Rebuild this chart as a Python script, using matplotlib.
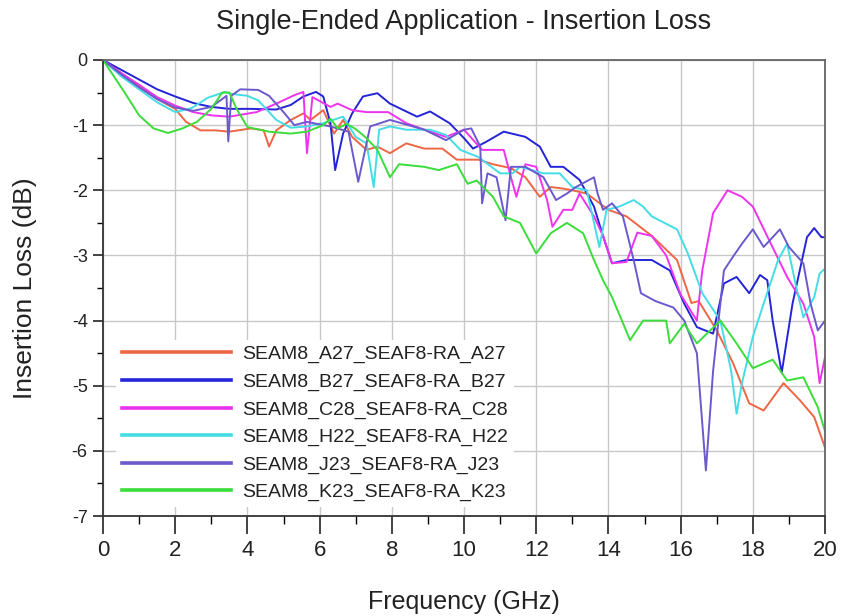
import matplotlib.pyplot as plt
from matplotlib.ticker import MultipleLocator

plt.rcParams['axes.unicode_minus'] = False
plt.rcParams['font.family'] = ['Liberation Sans', 'DejaVu Sans']

# frequency (GHz) / insertion loss (dB)
f_a27 = [0, 0.5, 1, 1.5, 2, 2.3, 2.7, 3.1, 3.5, 4.1, 4.45, 4.6, 4.8, 5.2, 5.55, 5.75, 6.1, 6.4, 6.65,
         6.9, 7.3, 7.6, 7.95, 8.4, 8.9, 9.4, 9.8, 10.4, 10.8, 11.3, 11.7, 12.1, 12.4, 12.7, 13.0, 13.4,
         14.0, 14.5, 15.2, 15.9, 16.3, 16.5, 17.0, 17.45, 17.9, 18.3, 18.85, 19.3, 19.7, 20]
a27 = [0, -0.2, -0.4, -0.6, -0.75, -0.95, -1.08, -1.08, -1.1, -1.05, -1.08, -1.33, -1.08, -0.92, -0.82,
       -0.92, -0.77, -1.13, -0.92, -1.18, -1.38, -1.33, -1.43, -1.28, -1.36, -1.36, -1.53, -1.53, -1.6,
       -1.66, -1.8, -2.1, -1.95, -1.97, -2.0, -2.05, -2.3, -2.4, -2.7, -3.07, -3.73, -3.7, -4.15, -4.65,
       -5.27, -5.38, -4.96, -5.22, -5.48, -5.95]

f_b27 = [0, 0.5, 1, 1.5, 2, 2.5, 3, 3.5, 4.1, 4.8, 5.2, 5.55, 5.9, 6.1, 6.3, 6.43, 6.65, 6.9, 7.2, 7.6,
         7.95, 8.7, 9.06, 9.6, 10.0, 10.25, 10.6, 11.1, 11.7, 12.1, 12.4, 12.75, 13.2, 13.6, 13.85, 14.1,
         14.5, 15.2, 15.7, 16.1, 16.45, 16.9, 17.2, 17.55, 17.9, 18.2, 18.4, 18.55, 18.8, 19.1, 19.5,
         19.7, 19.9, 20]
b27 = [0, -0.15, -0.3, -0.45, -0.56, -0.66, -0.72, -0.75, -0.75, -0.76, -0.69, -0.56, -0.49, -0.56,
       -0.97, -1.69, -1.13, -0.82, -0.56, -0.51, -0.67, -0.87, -0.79, -0.97, -1.2, -1.36, -1.26, -1.1,
       -1.18, -1.33, -1.64, -1.64, -1.84, -2.25, -2.7, -3.12, -3.07, -3.07, -3.23, -3.74, -4.1, -4.2,
       -3.43, -3.33, -3.58, -3.3, -3.38, -4.0, -4.8, -3.74, -2.72, -2.58, -2.72, -2.72]

f_c28 = [0, 0.5, 1, 1.5, 2, 2.5, 3, 3.5, 4.25, 4.8, 5.3, 5.55, 5.65, 5.8, 6.3, 6.5, 6.9, 7.3, 7.9, 8.4,
         8.9, 9.5, 10.0, 10.5, 11.1, 11.3, 11.45, 11.7, 12.0, 12.3, 12.45, 12.75, 13.0, 13.2, 13.6,
         13.85, 14.1, 14.5, 14.8, 15.2, 15.6, 16.0, 16.45, 16.6, 16.9, 17.3, 17.7, 18.0, 18.5, 18.95,
         19.4, 19.7, 19.85, 20]
c28 = [0, -0.2, -0.38, -0.57, -0.7, -0.8, -0.85, -0.87, -0.8, -0.67, -0.54, -0.49, -1.43, -0.57, -0.72,
       -0.67, -0.77, -0.8, -0.8, -0.97, -1.07, -1.18, -1.07, -1.38, -1.38, -1.8, -2.1, -1.6, -1.64,
       -2.15, -2.56, -2.3, -2.3, -2.05, -2.4, -2.7, -3.12, -3.1, -2.65, -2.7, -3.0, -3.6, -4.0, -3.23,
       -2.35, -2.0, -2.1, -2.25, -2.82, -3.33, -3.74, -4.25, -4.96, -4.56]

f_h22 = [0, 0.5, 1, 1.5, 2, 2.45, 2.9, 3.38, 3.55, 4.0, 4.3, 4.8, 5.2, 5.65, 6.1, 6.65, 7.0, 7.3, 7.5,
         7.65, 7.95, 8.4, 9.06, 9.5, 9.9, 10.4, 11.0, 11.35, 11.55, 12.2, 12.65, 13.0, 13.4, 13.75,
         13.95, 14.3, 14.7, 14.96, 15.2, 15.9, 16.2, 16.6, 17.1, 17.4, 17.55, 17.7, 18.0, 18.3, 18.7,
         18.95, 19.2, 19.4, 19.7, 19.85, 20]
h22 = [0, -0.25, -0.45, -0.65, -0.8, -0.74, -0.58, -0.49, -0.52, -0.55, -0.62, -0.92, -1.04, -1.02,
       -0.97, -0.87, -1.18, -1.28, -1.95, -1.07, -1.02, -1.07, -1.07, -1.15, -1.38, -1.49, -1.74, -1.74,
       -1.64, -1.74, -1.74, -1.95, -2.0, -2.87, -2.3, -2.25, -2.15, -2.25, -2.4, -2.6, -2.97, -3.58,
       -4.0, -4.77, -5.43, -4.96, -4.25, -3.74, -3.07, -2.82, -3.48, -3.95, -3.64, -3.28, -3.2]

f_j23 = [0, 0.5, 1, 1.5, 2, 2.5, 3, 3.3, 3.42, 3.47, 3.55, 3.8, 4.3, 4.6, 5.0, 5.3, 5.65, 6.3, 6.8,
         7.07, 7.4, 7.95, 8.9, 9.5, 10.0, 10.2, 10.45, 10.5, 10.65, 10.9, 11.15, 11.3, 11.7, 12.2,
         12.55, 12.85, 13.1, 13.6, 13.7, 13.85, 14.1, 14.4, 14.7, 14.9, 15.3, 15.8, 16.1, 16.45, 16.7,
         16.9, 17.2, 17.45, 17.7, 18.0, 18.3, 18.75, 19.0, 19.4, 19.6, 19.8, 20]
j23 = [0, -0.22, -0.42, -0.6, -0.73, -0.78, -0.72, -0.6, -0.55, -1.25, -0.55, -0.45, -0.46, -0.55,
       -0.8, -1.0, -0.95, -1.02, -1.1, -1.87, -1.02, -0.92, -1.07, -1.23, -1.07, -1.05, -1.33, -2.2,
       -1.74, -1.8, -2.46, -1.64, -1.64, -1.8, -2.15, -2.05, -1.95, -1.8, -2.05, -2.3, -2.2, -2.4,
       -3.07, -3.58, -3.7, -3.8, -4.0, -4.5, -6.3, -4.77, -3.23, -3.02, -2.82, -2.6, -2.87, -2.6,
       -2.87, -3.12, -3.74, -4.15, -4.0]

f_k23 = [0, 0.3, 0.6, 1, 1.4, 1.8, 2.2, 2.6, 3.0, 3.3, 3.5, 3.7, 4.0, 4.6, 5.2, 5.65, 6.1, 6.3, 6.5,
         6.75, 7.0, 7.3, 7.6, 7.95, 8.2, 8.9, 9.3, 9.8, 10.1, 10.35, 10.8, 11.1, 11.55, 12.0, 12.4,
         12.85, 13.3, 13.6, 13.85, 14.1, 14.6, 14.96, 15.6, 15.7, 16.1, 16.45, 17.1, 17.55, 18.0,
         18.55, 18.95, 19.4, 19.8, 20]
k23 = [0, -0.25, -0.5, -0.85, -1.05, -1.12, -1.05, -0.95, -0.75, -0.5, -0.5, -0.75, -1.03, -1.1,
       -1.13, -1.1, -1.0, -0.9, -1.05, -0.98, -1.06, -1.2, -1.38, -1.8, -1.6, -1.64, -1.69, -1.6,
       -1.9, -1.85, -2.1, -2.4, -2.5, -2.97, -2.66, -2.5, -2.66, -3.07, -3.38, -3.64, -4.3, -4.0,
       -4.0, -4.35, -4.05, -4.35, -4.0, -4.35, -4.73, -4.6, -4.92, -4.87, -5.33, -5.7]

names = ['SEAM8_A27_SEAF8-RA_A27', 'SEAM8_B27_SEAF8-RA_B27', 'SEAM8_C28_SEAF8-RA_C28',
         'SEAM8_H22_SEAF8-RA_H22', 'SEAM8_J23_SEAF8-RA_J23', 'SEAM8_K23_SEAF8-RA_K23']
colors = ['#EE6644', '#2424D8', '#EE33EE', '#44DDE6', '#6A5ACD', '#3ADD3A']
series = [(f_a27, a27), (f_b27, b27), (f_c28, c28), (f_h22, h22), (f_j23, j23), (f_k23, k23)]

fig = plt.figure(figsize=(8.41, 6.16), dpi=100)
ax = fig.add_axes([0.1225, 0.1623, 0.8585, 0.7403])

for (f, v), name, c in zip(series, names, colors):
    ax.plot(f, v, color=c, lw=1.4, label=name)

ax.set_xlim(0, 20)
ax.set_ylim(-7, 0)
ax.xaxis.set_major_locator(MultipleLocator(2))
ax.xaxis.set_minor_locator(MultipleLocator(1))
ax.yaxis.set_major_locator(MultipleLocator(1))
ax.yaxis.set_minor_locator(MultipleLocator(0.5))
ax.grid(True, which='major', color='#C8C8C8', lw=1)
ax.set_axisbelow(True)

ax.tick_params(axis='x', which='major', direction='out', length=13, width=1.2, pad=4,
               labelsize=16, colors='#222222')
ax.tick_params(axis='x', which='minor', direction='out', length=6, width=1)
ax.tick_params(axis='y', which='major', direction='out', length=7, width=1.2, pad=4,
               labelsize=13, colors='#222222')
ax.tick_params(axis='y', which='minor', direction='out', length=4, width=1)

for side in ['left', 'bottom']:
    ax.spines[side].set_color('#333333')
    ax.spines[side].set_linewidth(1.3)
for side in ['top', 'right']:
    ax.spines[side].set_color('#666666')
    ax.spines[side].set_linewidth(1.3)

ax.set_title('Single-Ended Application - Insertion Loss', fontsize=19.5, pad=22, color='#222222')
ax.set_xlabel('Frequency (GHz)', fontsize=18, labelpad=21, color='#222222')
ax.set_ylabel('Insertion Loss (dB)', fontsize=19, labelpad=25, color='#222222')

leg = ax.legend(loc='lower left', bbox_to_anchor=(0.018, 0.02), fontsize=14, frameon=True,
                handlelength=5.6, handletextpad=0.6, labelspacing=0.5, borderpad=0.3,
                borderaxespad=0)
leg.get_frame().set_facecolor('white')
leg.get_frame().set_edgecolor('none')
leg.get_frame().set_alpha(1)
leg.get_frame().set_boxstyle('square', pad=0)
for line in leg.get_lines():
    line.set_linewidth(2.6)
for t in leg.get_texts():
    t.set_color('#222222')

fig.savefig('out.png', dpi=100)
